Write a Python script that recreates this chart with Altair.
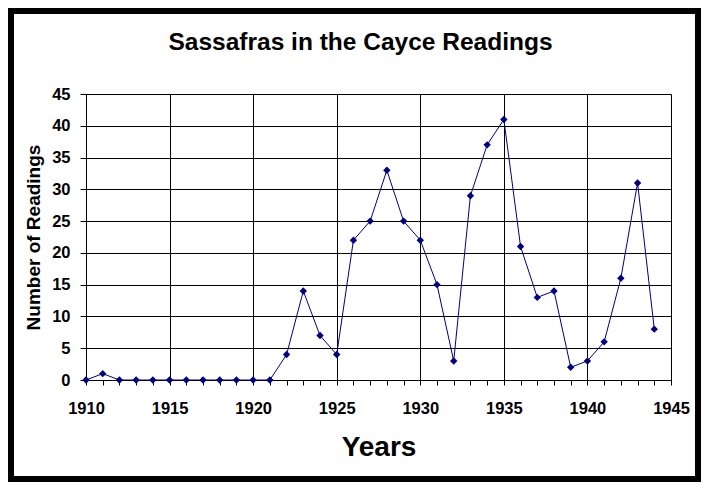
import altair as alt
import pandas as pd

years = list(range(1910, 1945))
readings = [0, 1, 0, 0, 0, 0, 0, 0, 0, 0,
            0, 0, 4, 14, 7, 4, 22, 25, 33, 25,
            22, 15, 3, 29, 37, 41, 21, 13, 14, 2,
            3, 6, 16, 31, 8]
x_ticks = list(range(1910, 1946))
y_ticks = list(range(0, 46, 5))

df = pd.DataFrame({"Year": years, "Readings": readings})

FONT = "Liberation Sans"
NAVY = "#000080"

x_enc = alt.X(
    "Year:Q",
    scale=alt.Scale(domain=[1910, 1945], nice=False, zero=False),
    axis=alt.Axis(
        title="Years",
        values=x_ticks,
        format="d",
        labelExpr="datum.value % 5 === 0 ? datum.label : ''",
        grid=True,
        gridColor="black",
        gridWidth=1,
        gridOpacity={"condition": {"test": "datum.value % 5 === 0", "value": 1}, "value": 0},
        domainColor="black",
        domainWidth=1,
        tickColor="black",
        tickSize=5,
        labelFont=FONT,
        labelFontSize=16.5,
        labelFontWeight="bold",
        labelColor="black",
        labelBaseline="alphabetic",
        labelPadding=28,
        labelFlush=False,
        labelOverlap=False,
        titleFont=FONT,
        titleFontSize=28,
        titleFontWeight="bold",
        titleColor="black",
        titleBaseline="alphabetic",
        titleX=292.5,
        titleY=75,
    ),
)

y_enc = alt.Y(
    "Readings:Q",
    scale=alt.Scale(domain=[0, 45], nice=False),
    axis=alt.Axis(
        title="Number of Readings",
        values=y_ticks,
        grid=True,
        gridColor="black",
        gridWidth=1,
        domainColor="black",
        domainWidth=1,
        tickColor="black",
        tickSize=6,
        labelFont=FONT,
        labelFontSize=16.5,
        labelFontWeight="bold",
        labelColor="black",
        labelPadding=10,
        labelFlush=False,
        titleFont=FONT,
        titleFontSize=19,
        titleFontWeight="bold",
        titleColor="black",
        titleBaseline="alphabetic",
        titleAngle=270,
        titleX=-47,
        titleY=143,
    ),
)

line = alt.Chart(df).mark_line(color=NAVY, strokeWidth=1).encode(x=x_enc, y=y_enc)
points = alt.Chart(df).mark_point(
    shape="diamond", filled=True, color=NAVY, size=55, opacity=1
).encode(x=x_enc, y=y_enc)

frame = alt.Chart(pd.DataFrame({"f": [0]})).mark_rect(
    fill="transparent", stroke="black", strokeWidth=6
).encode(
    x=alt.value(-75), x2=alt.value(612),
    y=alt.value(-83), y2=alt.value(385),
)

chart = alt.layer(line, points, frame).properties(
    width=585,
    height=286,
    padding={"left": 78, "top": 86, "right": 30, "bottom": 102},
    autosize=alt.AutoSizeParams(type="none"),
    background="white",
    title=alt.TitleParams(
        text="Sassafras in the Cayce Readings",
        font=FONT,
        fontSize=24.5,
        fontWeight="bold",
        color="black",
        anchor="middle",
        baseline="alphabetic",
        dx=-18,
        offset=-66,
    ),
).configure_view(stroke=None)

chart.save("out.html", embed_options={"renderer": "svg", "actions": False})
